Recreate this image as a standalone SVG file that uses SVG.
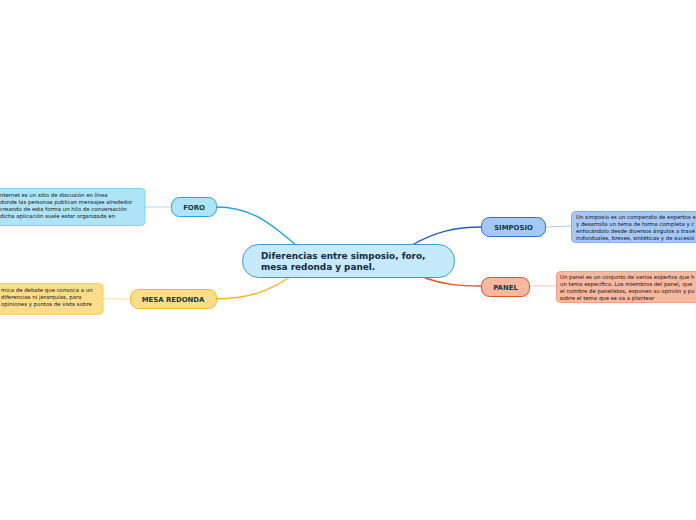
<svg xmlns="http://www.w3.org/2000/svg" width="696" height="520" viewBox="0 0 696 520">
<style>
.lbl{font-family:"DejaVu Sans",Verdana,sans-serif;font-weight:bold;font-size:6.9px;fill:#133a3a;text-anchor:middle}
.main{font-family:"DejaVu Sans",Verdana,sans-serif;font-weight:bold;font-size:8.9px;fill:#152848}
.desc{font-family:"DejaVu Sans",Verdana,sans-serif;font-size:5.4px;fill:#111111}
.c{fill:none;stroke-width:1.4}
.t{fill:none;stroke-width:0.8}
</style>
<rect width="696" height="520" fill="#ffffff"/>
<g id="connectors">
<path class="c" stroke="#1ea6e0" d="M216,207 C255,207 275,228 296,245"/>
<path class="c" stroke="#f8b51c" d="M216,299 C250,299 270,290 290,277"/>
<path class="c" stroke="#1f5fc8" d="M412,245 C435,232 455,227 481,227"/>
<path class="c" stroke="#e8501c" d="M425,278 C445,285 460,286 481,286"/>
<path class="t" stroke="#8ed4f0" d="M145,207 L171,207"/>
<path class="t" stroke="#fcd480" d="M103,299 L130,299"/>
<path class="t" stroke="#9cbcf0" d="M545,227 L571,226"/>
<path class="t" stroke="#f6b0a0" d="M529,286 L556,286"/>
</g>
<g id="central">
<rect x="242.5" y="244.5" width="212" height="33" rx="16" fill="#c4eafc" stroke="#3a9ed6" stroke-width="1"/>
<text class="main" x="261" y="259">Diferencias entre simposio, foro,</text>
<text class="main" x="261" y="270">mesa redonda y panel.</text>
</g>
<g id="foro">
<rect x="171.5" y="197.5" width="45" height="19" rx="8" fill="#aee4f8" stroke="#22a8e0"/>
<text class="lbl" x="194" y="210">FORO</text>
</g>
<g id="foro-desc">
<rect x="-10" y="188.5" width="155" height="37" rx="4" fill="#aee4f8" stroke="#6ccaf0" stroke-width="0.8"/>
<text class="desc" x="0" y="196.5">nternet es un sitio de discusión en línea</text>
<text class="desc" x="0" y="203.5">donde las personas publican mensajes alrededor</text>
<text class="desc" x="0" y="210.5"> creando de esta forma un hilo de conversación</text>
<text class="desc" x="0" y="217.5">dicha aplicación suele estar organizada en</text>
</g>
<g id="mesa">
<rect x="130.5" y="289.5" width="86" height="19" rx="8" fill="#fedd8a" stroke="#f8b820"/>
<text class="lbl" x="173" y="301.5">MESA REDONDA</text>
</g>
<g id="mesa-desc">
<rect x="-10" y="283.5" width="113" height="31" rx="4" fill="#fedd8a" stroke="#fbc850" stroke-width="0.8"/>
<text class="desc" x="1" y="291.5">mica de debate que convoca a un</text>
<text class="desc" x="1" y="298.5">diferencias ni jerarquías, para</text>
<text class="desc" x="1" y="305.5">opiniones y puntos de vista sobre</text>
</g>
<g id="simposio">
<rect x="481.5" y="217.5" width="64" height="19" rx="8" fill="#a6c8f8" stroke="#2f6fd0"/>
<text class="lbl" x="513.5" y="229.5">SIMPOSIO</text>
</g>
<g id="simposio-desc">
<rect x="571.5" y="211.5" width="140" height="31" rx="4" fill="#a6c8f8" stroke="#6ea0e8" stroke-width="0.8"/>
<text class="desc" x="576" y="218.5">Un simposio es un compendio de expertos e</text>
<text class="desc" x="576" y="225.5">y desarrolla un tema de forma completa y c</text>
<text class="desc" x="576" y="232.5">enfocándolo desde diversos ángulos a travé</text>
<text class="desc" x="576" y="239.5">individuales, breves, sintéticas y de sucesió</text>
</g>
<g id="panel">
<rect x="481.5" y="277.5" width="48" height="19" rx="8" fill="#f9b8a0" stroke="#e85020"/>
<text class="lbl" x="505.5" y="289.5">PANEL</text>
</g>
<g id="panel-desc">
<rect x="556.5" y="271.5" width="150" height="31" rx="4" fill="#f9b8a0" stroke="#f09070" stroke-width="0.8"/>
<text class="desc" x="560" y="278.5">Un panel es un conjunto de varios expertos que h</text>
<text class="desc" x="560" y="285.5">un tema específico. Los miembros del panel, que</text>
<text class="desc" x="560" y="292.5">el nombre de panelistas, exponen su opinión y pu</text>
<text class="desc" x="560" y="299.5">sobre el tema que se va a plantear</text>
</g>
</svg>
